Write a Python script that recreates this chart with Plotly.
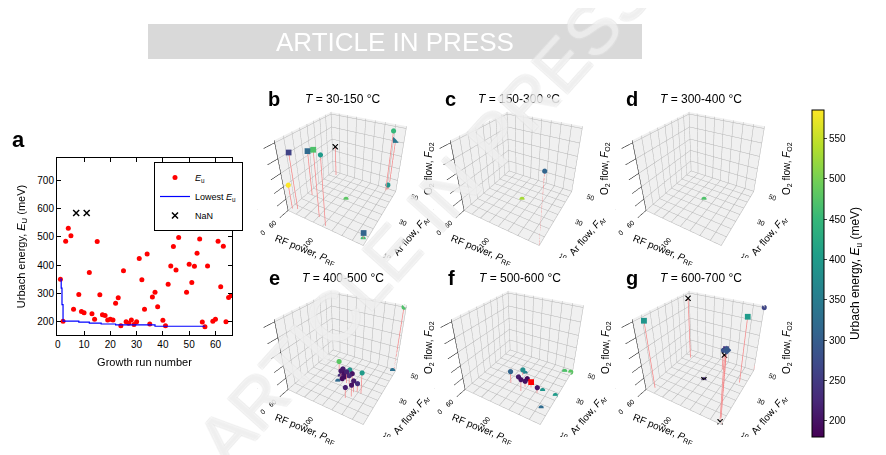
import plotly.graph_objects as go

FONT = "Liberation Sans, Arial, sans-serif"
OFF = 8                      # page body margin of the html file
W, H = 886 - OFF, 455 - OFF

# %% panel a: Urbach energy per growth run
runs = [1, 2, 3, 4, 5, 6, 8, 9, 10, 12, 13, 14, 15, 16, 17, 18, 19, 20, 21, 22, 23, 24, 25, 26, 27, 28,
        29, 30, 31, 32, 33, 34, 35, 36, 37, 38, 40, 41, 42, 43, 44, 45, 46, 47, 49, 50, 51, 52, 53, 54,
        55, 56, 57, 59, 60, 61, 62, 63, 64, 65, 66]
eu = [350, 201, 485, 531, 504, 243, 296, 235, 231, 374, 227, 208, 484, 295, 224, 221, 205, 208, 205, 265,
      284, 185, 380, 199, 194, 205, 189, 199, 423, 348, 243, 439, 191, 287, 304, 252, 204, 185, 332, 397,
      466, 383, 498, 587, 304, 403, 338, 396, 442, 493, 198, 181, 397, 201, 208, 485, 323, 467, 199, 285, 292]
lowest_runs = [1, 1.3, 1.6, 2, 8, 12, 16.5, 22, 37, 56]
lowest_eu = [350, 318, 260, 201, 198, 194, 191, 188, 183, 183]
nan_runs = [7, 11, 39, 48, 58]
nan_level = 585

# %% panels b-g: RF power, Ar flow, O2 flow, Urbach energy
b_rf = [62, 67, 66, 91, 102, 100, 137, 137, 130, 132, 131]
b_ar = [12, 13, 25, 14, 11, 31, 13, 13, 48, 50, 49]
b_o2 = [4, 8.7, 7.3, 9.8, 10, 0, 1, 0, 9.6, 8.2, 0.9]
b_eu = [585, 260, 320, 470, 400, 480, 310, 460, 450, 340, 390]
b_sym = ['circle', 'square', 'square', 'square', 'circle', 'circle', 'square', 'circle', 'circle', 'square', 'circle']
b_nan_rf, b_nan_ar, b_nan_o2 = [68], [47], [5.3]

c_rf = [100, 140]
c_ar = [31, 10]
c_o2 = [0, 10]
c_eu = [530, 310]

d_rf = [100]
d_ar = [31]
d_o2 = [0]
d_eu = [470]

e_rf = [138, 137, 87, 95, 123, 94, 99, 104, 100, 107, 106, 116, 119, 117, 113, 99, 93, 94, 100, 101]
e_ar = [50, 49, 35, 27, 25, 31, 30, 28, 30, 28, 32, 24, 25, 21, 19, 28, 31, 33, 32, 34]
e_o2 = [10, 0, 1.6, 0, 3.5, 1, 1, 2, 0.5, 1.5, 1, 2, 1.5, 2, 1.8, 0.5, 0, 1, 1, 1]
e_eu = [470, 330, 480, 320, 400, 205, 195, 215, 190, 225, 200, 210, 235, 200, 215, 190, 230, 210, 310, 390]

f_rf = [93, 97.5, 98, 97, 107.5, 108, 106, 122, 125, 138, 133, 133, 139]
f_ar = [25, 33, 35, 29, 22.5, 26, 30, 25, 28, 28, 18, 47, 48]
f_o2 = [2, 1, 0, 0.5, 2, 1, 0.5, 1, 0, 0, 0, 0, 0]
f_eu = [310, 380, 360, 210, 200, 195, 188, 205, 390, 400, 320, 470, 480]
f_best_rf, f_best_ar, f_best_o2 = [113.5], [27], [1]

g_rf = [66, 134, 140, 101, 140, 137, 110]
g_ar = [13, 37, 50, 30, 10, 13, 42]
g_o2 = [10, 10, 10, 0, 10, 9.5, 3.5]
g_eu = [390, 400, 265, 230, 290, 240, 280]
g_sym = ['square', 'square', 'circle', 'circle', 'diamond', 'square', 'circle']
g_nan_rf, g_nan_ar, g_nan_o2 = [68, 101, 137, 138], [43, 30, 12, 11], [10, 0, 9, 0]

rf_ticks = list(range(60, 141, 10))
ar_ticks = list(range(10, 51, 5))
o2_ticks = list(range(0, 11, 2))
rf_labels = ['60', '', '', '', '100', '', '', '', '140']
ar_labels = ['10', '', '', '', '30', '', '', '', '50']
o2_labels = ['0', '', '4', '', '8', '']

EU_MIN, EU_MAX = 180, 585


def px(x, y):
    # screen pixel of the reference -> paper fraction
    return (x - OFF) / W, 1 - (y - OFF) / H


def stems(rf, ar, o2):
    xs, ys, zs = [], [], []
    for x, y, z in zip(rf, ar, o2):
        if z > 0.3:
            xs += [x, x, None]
            ys += [y, y, None]
            zs += [z, 0, None]
    return xs, ys, zs


fig = go.Figure()

# %% panel a
fig.add_trace(go.Scatter(x=runs, y=eu, mode='markers', name='<i>E</i><sub>u</sub>',
                         marker=dict(color='#ff0000', size=5)))
fig.add_trace(go.Scatter(x=lowest_runs, y=lowest_eu, mode='lines', name='Lowest <i>E</i><sub>u</sub>',
                         line=dict(color='#0000ff', width=1.2, shape='hv')))
fig.add_trace(go.Scatter(x=nan_runs, y=[nan_level] * len(nan_runs), mode='markers', name='NaN',
                         marker=dict(symbol='x-thin', size=6, color='black',
                                     line=dict(width=1.5, color='black'))))

# %% panels b-g
panels = [
    ('b', '30-150', b_rf, b_ar, b_o2, b_eu, b_sym, (b_nan_rf, b_nan_ar, b_nan_o2), None, (341, 178)),
    ('c', '150-300', c_rf, c_ar, c_o2, c_eu, None, None, None, (517, 178)),
    ('d', '300-400', d_rf, d_ar, d_o2, d_eu, None, None, None, (699, 178)),
    ('e', '400-500', e_rf, e_ar, e_o2, e_eu, None, None, None, (341, 357)),
    ('f', '500-600', f_rf, f_ar, f_o2, f_eu, None, None, (f_best_rf, f_best_ar, f_best_o2), (518, 357)),
    ('g', '600-700', g_rf, g_ar, g_o2, g_eu, g_sym, (g_nan_rf, g_nan_ar, g_nan_o2), None, (699, 357)),
]

eye_dir = (0.4200, -0.7275, 0.5446)
eye_k = 2.45
annotations = []
layout_scenes = {}

for i, (key, temp, rf, ar, o2, vals, sym, nan, best, (cx, cy)) in enumerate(panels):
    scene = 'scene' if i == 0 else 'scene%d' % (i + 1)
    all_rf = rf + (nan[0] if nan else []) + (best[0] if best else [])
    all_ar = ar + (nan[1] if nan else []) + (best[1] if best else [])
    all_o2 = o2 + (nan[2] if nan else []) + (best[2] if best else [])
    sx, sy, sz = stems(all_rf, all_ar, all_o2)
    fig.add_trace(go.Scatter3d(x=sx, y=sy, z=sz, mode='lines', scene=scene, showlegend=False,
                               line=dict(color='#f4898a', width=1.5)))
    fig.add_trace(go.Scatter3d(x=rf, y=ar, z=o2, mode='markers', scene=scene, showlegend=False,
                               marker=dict(color=vals, coloraxis='coloraxis', size=3,
                                           symbol=sym if sym else 'circle', line=dict(width=0))))
    if nan:
        fig.add_trace(go.Scatter3d(x=nan[0], y=nan[1], z=nan[2], mode='markers', scene=scene,
                                   showlegend=False,
                                   marker=dict(symbol='x', size=1.3, color='black')))
    if best:
        fig.add_trace(go.Scatter3d(x=best[0], y=best[1], z=best[2], mode='markers', scene=scene,
                                   showlegend=False, marker=dict(symbol='square', size=3, color='#ff0000')))

    ax = dict(showbackground=True, backgroundcolor='#f0f0f0', gridcolor='#b4b4b4', gridwidth=1,
              zeroline=False, showspikes=False, title=dict(text=''), tickmode='array',
              tickfont=dict(size=9, color='black', family=FONT), showline=False)
    x0, y1 = px(cx + 4 - 88, cy - 8 - 88)
    x1, y0 = px(cx + 4 + 88, cy - 8 + 88)
    layout_scenes[scene] = dict(
        domain=dict(x=[x0, x1], y=[y0, y1]),
        xaxis=dict(ax, range=[60, 140], tickvals=rf_ticks, ticktext=rf_labels),
        yaxis=dict(ax, range=[10, 50], tickvals=ar_ticks, ticktext=ar_labels),
        zaxis=dict(ax, range=[0, 10.3], tickvals=o2_ticks, ticktext=o2_labels,
                   showline=True, linecolor='black', ticks='outside', ticklen=4, tickcolor='black'),
        aspectmode='manual', aspectratio=dict(x=1, y=1, z=0.92),
        camera=dict(eye=dict(x=eye_dir[0] * eye_k, y=eye_dir[1] * eye_k, z=eye_dir[2] * eye_k),
                    center=dict(x=0, y=0, z=0), up=dict(x=0, y=0, z=1)),
        bgcolor='rgba(0,0,0,0)')

    lx, ly = px(cx - 67, cy - 79)
    annotations.append(dict(x=lx, y=ly, text='<b>%s</b>' % key, font=dict(size=20, family=FONT)))
    tx, ty = px(cx + 2, cy - 79)
    annotations.append(dict(x=tx, y=ty, text='<i>T</i> = %s °C' % temp, font=dict(size=12, family=FONT)))
    ax_titles = [
        ('RF power, <i>P</i><sub>RF</sub>', -36, 72, 22),
        ('Ar flow, <i>F</i><sub>Ar</sub>', 70, 58, -50),
        ('O<sub>2</sub> flow, <i>F</i><sub>O2</sub>', 88, -9, -90),
    ]
    for text, dx, dy, ang in ax_titles:
        ax_x, ax_y = px(cx + dx, cy + dy)
        annotations.append(dict(x=ax_x, y=ax_y, text=text, textangle=ang, font=dict(size=10, family=FONT)))

# %% panel a label, banner and watermark
annotations.append(dict(x=px(18, 139)[0], y=px(18, 139)[1], text='<b>a</b>', font=dict(size=22, family=FONT)))
annotations.append(dict(x=px(395, 41.5)[0], y=px(395, 41.5)[1], text='ARTICLE IN PRESS',
                        font=dict(size=26, color='white', family=FONT)))
annotations.append(dict(x=px(425, 216)[0], y=px(425, 216)[1], text='ARTICLE IN PRESS', textangle=-48,
                        font=dict(size=70, color='rgba(255,255,255,0.35)', family=FONT,
                                  shadow='1px 1px 0 #e2e2e2, -1px -1px 0 #e2e2e2, 1px -1px 0 #e2e2e2, -1px 1px 0 #e2e2e2')))
for a in annotations:
    a.update(xref='paper', yref='paper', showarrow=False, xanchor='center', yanchor='middle')

bx0, by1 = px(148, 24)
bx1, by0 = px(642, 59)

ax_a = dict(showline=True, linecolor='black', linewidth=1, mirror='ticks', ticks='inside', ticklen=4,
            tickcolor='black', showgrid=False, zeroline=False, automargin=False,
            tickfont=dict(size=10, family=FONT, color='black'))
ax0, ay1 = px(57, 158)
ax1, ay0 = px(232, 335)

fig.update_layout(
    width=W, height=H, margin=dict(l=0, r=0, t=0, b=0),
    paper_bgcolor='white', plot_bgcolor='white', hovermode=False,
    font=dict(family=FONT, color='black'),
    xaxis=dict(ax_a, domain=[ax0, ax1], range=[-0.3, 66.3], dtick=10,
               title=dict(text='Growth run number', font=dict(size=11), standoff=9)),
    yaxis=dict(ax_a, domain=[ay0, ay1], range=[152, 780], tickvals=[200, 300, 400, 500, 600, 700],
               title=dict(text='Urbach energy, <i>E</i><sub>U</sub> (meV)', font=dict(size=11), standoff=9)),
    legend=dict(x=px(154, 162)[0], y=px(154, 162)[1], xanchor='left', yanchor='top', bgcolor='white',
                bordercolor='black', borderwidth=1, font=dict(size=9, family=FONT), tracegroupgap=0,
                itemwidth=30),
    coloraxis=dict(colorscale='Viridis', cmin=EU_MIN, cmax=EU_MAX,
                   colorbar=dict(x=px(812, 0)[0], xanchor='left', y=px(0, 273.5)[1], yanchor='middle',
                                 len=327 / H, lenmode='fraction', thickness=12, outlinewidth=1,
                                 outlinecolor='black', ticks='outside', ticklen=3, xpad=0, ypad=0,
                                 tickvals=[200, 250, 300, 350, 400, 450, 500, 550],
                                 tickfont=dict(size=10, family=FONT),
                                 title=dict(text='Urbach energy, <i>E</i><sub>u</sub> (meV)', side='right',
                                            font=dict(size=12, family=FONT)))),
    shapes=[dict(type='rect', xref='paper', yref='paper', x0=bx0, x1=bx1, y0=by0, y1=by1,
                 fillcolor='#d9d9d9', line=dict(width=0), layer='below')],
    annotations=annotations,
    **layout_scenes,
)

fig.write_html("out.html")
